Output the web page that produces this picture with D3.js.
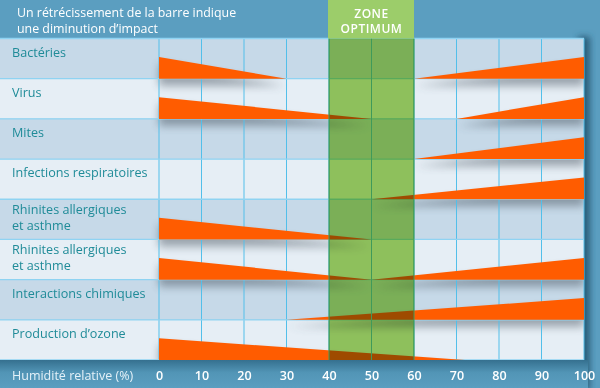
<!DOCTYPE html>
<html><head><meta charset="utf-8">
<script src="https://cdn.jsdelivr.net/npm/d3@7"></script>
<style>
html,body{margin:0;padding:0;background:#5b9ec0;}
svg{display:block;font-family:"Open Sans",Lato,sans-serif;}
</style></head>
<body>
<svg id="chart" width="600" height="388"></svg>
<script>
// ---- data ----
const categories = ["Bactéries","Virus","Mites","Infections respiratoires",
  "Rhinites allergiques\net asthme","Rhinites allergiques\net asthme",
  "Interactions chimiques","Production d’ozone"];
// humidity (%) where the low-humidity impact bar reaches zero (null = none)
const lowImpactEnd = [30, 50, null, null, 50, 50, null, 72];
// humidity (%) where the high-humidity impact bar starts (null = none)
const highImpactStart = [60, 70, 60, 50, null, 50, 30, null];
// impact at the extremes (0% and 100%)
const lowImpactMax = [1, 1, 0, 0, 1, 1, 0, 1];
const highImpactMax = [1, 1, 1, 1, 0, 1, 1, 0];
const optimumZone = [40, 60];
const tickValues = [0,10,20,30,40,50,60,70,80,90,100];
const headerText = ["Un rétrécissement de la barre indique","une diminution d’impact"];
const zoneText = ["ZONE","OPTIMUM"];
const axisTitle = "Humidité relative (%)";

// ---- layout ----
const svg = d3.select("#chart");
const W = 600, H = 388;
const x = d3.scaleLinear().domain([0,100]).range([159,584]);
const y = d3.scaleBand().domain(d3.range(categories.length)).range([38.5,360]);
const h = d3.scaleLinear().domain([0,1]).range([0, y.bandwidth()*0.54]);
const pTop = y.range()[0], pBottom = y.range()[1];

const defs = svg.append("defs");
const sh = defs.append("filter").attr("id","shadow").attr("x","-20%").attr("y","-50%").attr("width","140%").attr("height","250%");
sh.append("feGaussianBlur").attr("stdDeviation",4.5);
const ps = defs.append("filter").attr("id","pshadow").attr("x","-50%").attr("y","-20%").attr("width","200%").attr("height","140%");
ps.append("feGaussianBlur").attr("stdDeviation",3);
const g1 = defs.append("linearGradient").attr("id","axisGrad").attr("x1",0).attr("x2",0).attr("y1",0).attr("y2",1);
g1.append("stop").attr("offset","0%").attr("stop-color","#35708f");
g1.append("stop").attr("offset","45%").attr("stop-color","#5295b6");
g1.append("stop").attr("offset","100%").attr("stop-color","#5b9ec0");
defs.append("clipPath").attr("id","panelClip").append("rect")
  .attr("x",0).attr("y",pTop).attr("width",x(100)).attr("height",pBottom-pTop);

// background
svg.append("rect").attr("width",W).attr("height",H).attr("fill","#5b9ec0");
// panel shadow on right
svg.append("rect").attr("x",x(100)-6).attr("y",pTop-2).attr("width",12).attr("height",H-pTop+4)
  .attr("fill","#2c5f7c").attr("filter","url(#pshadow)");

// rows
svg.append("g").selectAll("rect").data(categories).join("rect")
  .attr("x",0).attr("y",(d,i)=>y(i)).attr("width",x(100)).attr("height",y.bandwidth())
  .attr("fill",(d,i)=> i%2===0 ? "#c6d9e8" : "#e6eef5");

// wedge shapes
function lowPath(i){
  if(lowImpactEnd[i]==null) return null;
  const b = y(i)+y.bandwidth();
  return `M${x(0)},${b-h(lowImpactMax[i])}L${x(lowImpactEnd[i])},${b}L${x(0)},${b}Z`;
}
function highPath(i){
  if(highImpactStart[i]==null) return null;
  const b = y(i)+y.bandwidth();
  return `M${x(highImpactStart[i])},${b}L${x(100)},${b-h(highImpactMax[i])}L${x(100)},${b}Z`;
}
const paths = [];
categories.forEach((c,i)=>{ const a=lowPath(i), b=highPath(i); if(a) paths.push(a); if(b) paths.push(b); });

// shadows of wedges
svg.append("g").attr("clip-path","url(#panelClip)")
  .append("g").attr("transform","translate(0,7)")
  .selectAll("path").data(paths).join("path")
  .attr("d",d=>d).attr("fill","#3c4a55").attr("opacity",0.45).attr("filter","url(#shadow)");

// vertical grid
svg.append("g").selectAll("line").data(tickValues).join("line")
  .attr("x1",d=>x(d)).attr("x2",d=>x(d)).attr("y1",pTop).attr("y2",pBottom)
  .attr("stroke","#52bfea").attr("stroke-width",1);
// row separators
svg.append("g").selectAll("line").data(d3.range(categories.length+1)).join("line")
  .attr("x1",0).attr("x2",x(100))
  .attr("y1",i=> i<categories.length ? y(i) : pBottom).attr("y2",i=> i<categories.length ? y(i) : pBottom)
  .attr("stroke","#8fd3f2").attr("stroke-width",1.3);

// wedges
svg.append("g").selectAll("path").data(paths).join("path")
  .attr("d",d=>d).attr("fill","#ff5c00");

// optimum zone overlay
svg.append("rect").attr("x",x(optimumZone[0])).attr("y",pTop)
  .attr("width",x(optimumZone[1])-x(optimumZone[0])).attr("height",pBottom-pTop)
  .attr("fill","rgb(158,206,96)").style("mix-blend-mode","multiply");
svg.append("g").selectAll("line").data(tickValues.filter(v=>v>=optimumZone[0]&&v<=optimumZone[1])).join("line")
  .attr("x1",d=>x(d)).attr("x2",d=>x(d)).attr("y1",pTop).attr("y2",pBottom)
  .attr("stroke","#3f9a5a").attr("stroke-width",1);

// zone header
svg.append("rect").attr("x",x(optimumZone[0])-1).attr("y",0)
  .attr("width",x(optimumZone[1])-x(optimumZone[0])+1).attr("height",pTop)
  .attr("fill","#9ccd6a");
svg.append("g").selectAll("text").data(zoneText).join("text")
  .attr("x",(x(optimumZone[0])+x(optimumZone[1]))/2).attr("y",(d,i)=>17.5+i*15.5)
  .attr("text-anchor","middle").attr("fill","#fff").attr("font-size",12)
  .attr("font-weight",600).attr("letter-spacing",0.5).text(d=>d);

// header text
svg.append("g").selectAll("text").data(headerText).join("text")
  .attr("x",17).attr("y",(d,i)=>17+i*15.5)
  .attr("fill","#fff").attr("font-size",12.4).text(d=>d);

// category labels
const lab = svg.append("g").selectAll("text").data(categories).join("text")
  .attr("x",12).attr("fill","#1f8b98").attr("font-size",12.6);
lab.each(function(d,i){
  const lines = d.split("\n");
  const t = d3.select(this).attr("y", y(i) + (lines.length>1 ? 15 : 18));
  lines.forEach((l,k)=> t.append("tspan").attr("x",12).attr("dy",k===0?0:15.5).text(l));
});

// axis band
svg.append("rect").attr("x",0).attr("y",pBottom).attr("width",x(100)+4).attr("height",H-pBottom).attr("fill","url(#axisGrad)");
svg.append("text").attr("x",12).attr("y",380).attr("fill","#e4f1f8").attr("font-size",12.5).text(axisTitle);
const ax = svg.append("g").attr("transform",`translate(0,${pBottom})`)
  .call(d3.axisBottom(x).tickValues(tickValues).tickSize(0).tickPadding(0).tickFormat(d3.format("d")));
ax.select(".domain").remove();
ax.selectAll("text").attr("y",20).attr("dy",0).attr("fill","#fff")
  .attr("font-size",12.5).attr("font-weight",600).attr("font-family","'Open Sans',Lato,sans-serif");
</script>
</body></html>
